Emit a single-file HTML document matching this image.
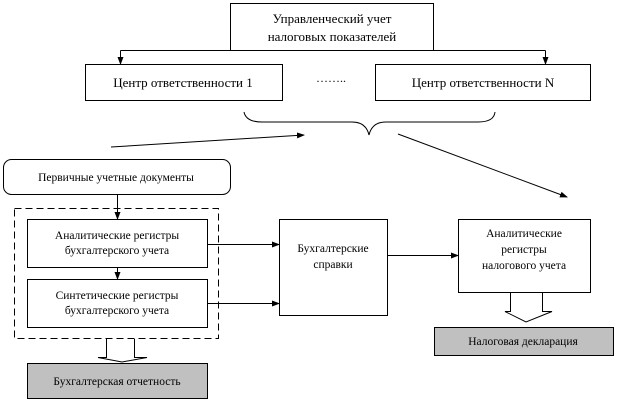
<!DOCTYPE html>
<html><head><meta charset="utf-8"><style>
body{margin:0;background:#fff;}
text{font-family:"Liberation Serif","DejaVu Serif","Times New Roman",serif;fill:#000;}
</style></head><body>
<svg width="618" height="402" viewBox="0 0 618 402" xmlns="http://www.w3.org/2000/svg">
<defs>
<marker id="a" markerWidth="8" markerHeight="8" refX="7" refY="4" orient="auto" markerUnits="userSpaceOnUse">
<path d="M0,1 L8,4 L0,7 Z" fill="#000"/></marker>
</defs>
<g fill="none" stroke="#000" stroke-width="1">
<rect x="230.5" y="3.5" width="203" height="47"/>
<polyline points="120.5,50.5 545.5,50.5" />
<line x1="120.5" y1="50.5" x2="120.5" y2="64" marker-end="url(#a)"/>
<line x1="545.5" y1="50.5" x2="545.5" y2="64" marker-end="url(#a)"/>
<rect x="85.5" y="64.5" width="197" height="36"/>
<rect x="375.5" y="64.5" width="215" height="36"/>
<path d="M244,112 Q246,122 262,122 L352,122 Q366,122 369,135 Q372,122 386,122 L478,122 Q494,122 495,112"/>
<line x1="111" y1="147" x2="304" y2="135" marker-end="url(#a)"/>
<line x1="398" y1="134" x2="567" y2="197" marker-end="url(#a)"/>
<rect x="3.5" y="159.5" width="227" height="35" rx="8"/>
<rect x="14.5" y="208.5" width="204" height="130" stroke-dasharray="7,4"/>
<rect x="27.5" y="219.5" width="180" height="48"/>
<rect x="27.5" y="279.5" width="180" height="48"/>
<line x1="117.5" y1="195" x2="117.5" y2="219" marker-end="url(#a)"/>
<line x1="117.5" y1="268" x2="117.5" y2="279" marker-end="url(#a)"/>
<line x1="208" y1="244.5" x2="279" y2="244.5" marker-end="url(#a)"/>
<line x1="208" y1="303.5" x2="279" y2="303.5" marker-end="url(#a)"/>
<rect x="279.5" y="219.5" width="108" height="96"/>
<line x1="388" y1="255.5" x2="458" y2="255.5" marker-end="url(#a)"/>
<rect x="458.5" y="219.5" width="132" height="73"/>
<path d="M510.5,293 L510.5,311.5 L505,311.5 L526,322 L552,311.5 L542.5,311.5 L542.5,293"/>
<rect x="434.5" y="327.5" width="179" height="28" fill="#c0c0c0"/>
<path d="M106.5,339 L106.5,357.5 L98,357.5 L122,362 L147,357.5 L134.5,357.5 L134.5,339"/>
<rect x="27.5" y="363.5" width="180" height="35" fill="#c0c0c0"/>
</g>
<g font-size="13" text-anchor="middle" font-family="Liberation Serif, serif">
<text x="332" y="23">Управленческий учет</text>
<text x="332" y="41">налоговых показателей</text>
<text x="183" y="87">Центр ответственности 1</text>
<text x="483" y="87">Центр ответственности N</text>
</g>
<text x="331" y="82" font-size="12" text-anchor="middle" font-family="Liberation Serif, serif">……..</text>
<g font-size="11.5" text-anchor="middle" font-family="Liberation Serif, serif">
<text x="116" y="181">Первичные учетные документы</text>
<text x="117" y="239">Аналитические регистры</text>
<text x="117" y="254">бухгалтерского учета</text>
<text x="117" y="299">Синтетические регистры</text>
<text x="117" y="314">бухгалтерского учета</text>
<text x="333" y="252">Бухгалтерские</text>
<text x="333" y="268">справки</text>
<text x="524" y="237">Аналитические</text>
<text x="524" y="253">регистры</text>
<text x="524" y="269">налогового учета</text>
<text x="523" y="345">Налоговая декларация</text>
<text x="117" y="385">Бухгалтерская отчетность</text>
</g>
</svg>
</body></html>
